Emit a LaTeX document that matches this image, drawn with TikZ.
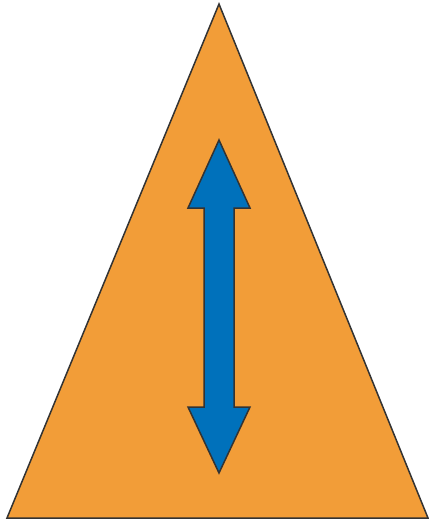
\documentclass[tikz,border=0pt]{standalone}
\definecolor{signorange}{HTML}{F29D38}
\definecolor{signblue}{HTML}{0071BB}
\definecolor{signedge}{HTML}{333333}
\tikzset{
  outline/.style={draw=signedge, line width=1.5pt, line join=miter},
}
\begin{document}
\begin{tikzpicture}[x=1pt,y=-1pt]
% Frame
\useasboundingbox (0,0) rectangle (429,523);

% Triangle
\filldraw[outline, fill=signorange] (219,4) -- (428,518) -- (7,518) -- cycle;

% Double arrow
\filldraw[outline, fill=signblue]
  (219,140) -- (250,208) -- (234,208) -- (234,407) -- (250,407)
  -- (219,473) -- (188,407) -- (204,407) -- (204,208) -- (188,208) -- cycle;
\end{tikzpicture}
\end{document}
